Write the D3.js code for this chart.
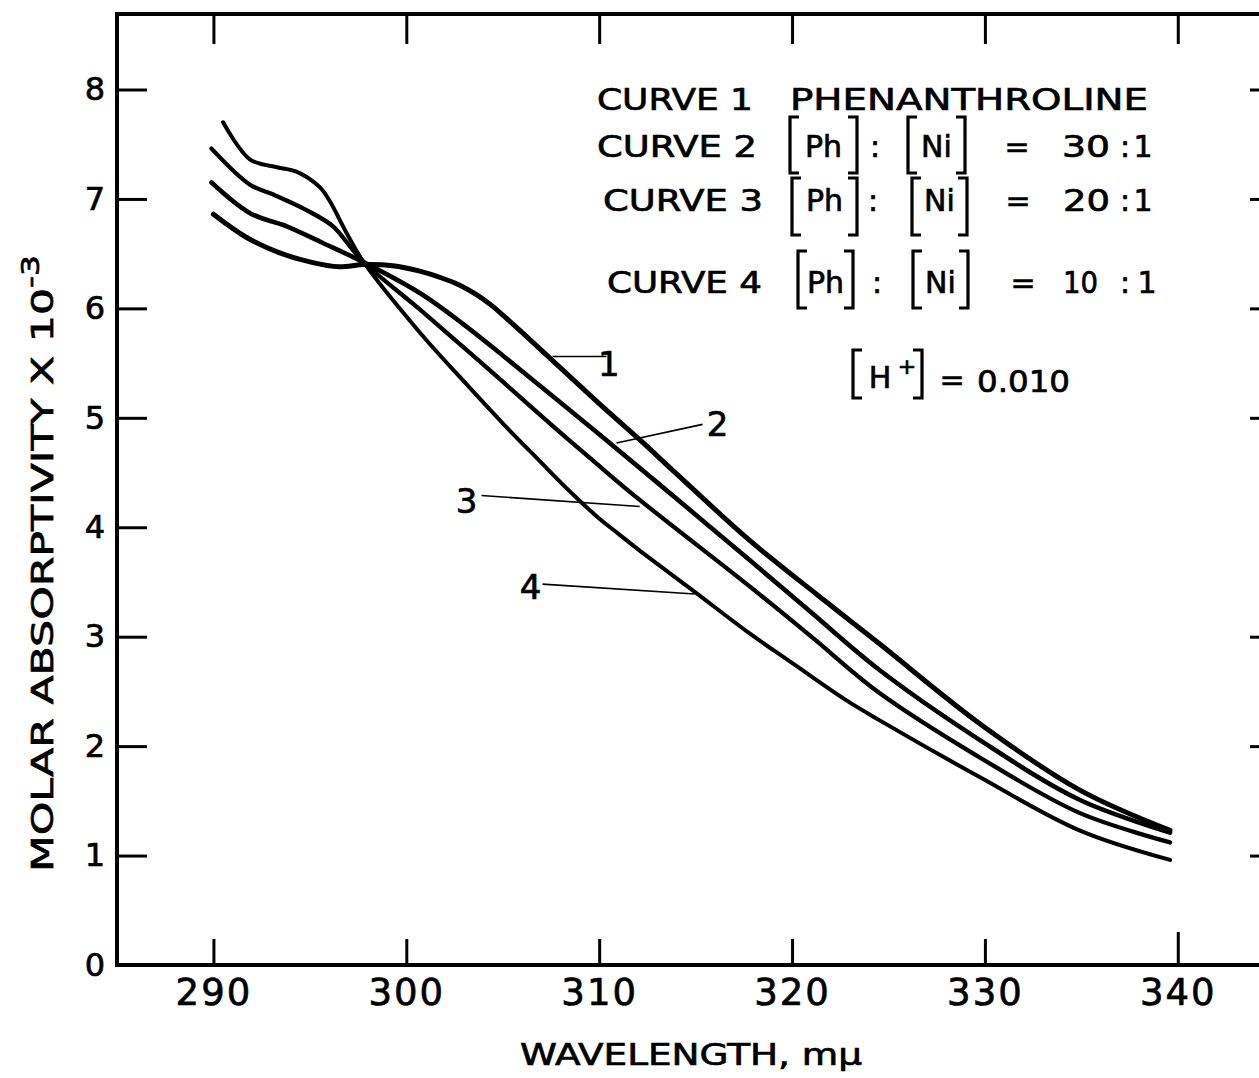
<!DOCTYPE html>
<html>
<head>
<meta charset="utf-8">
<script src="https://d3js.org/d3.v7.min.js"></script>
<style>
  html, body { margin: 0; padding: 0; background: #fff; }
  svg { display: block; }
  text { font-family: 'DejaVu Sans', sans-serif; fill: #000; stroke: #000; stroke-width: 0.7px; }
</style>
</head>
<body>
<svg id="chart" width="1259" height="1078"></svg>
<script>
'use strict';

// values (wavelength in m-mu, molar absorptivity x 10^-3)
var curve1Wavelength = [290.0, 291.7, 293.4, 295.1, 296.5, 297.8, 299.3, 300.7, 301.8, 302.8, 303.6, 304.4, 305.5, 307.6, 310.0, 312.1, 314.0, 317.8, 321.4, 324.5, 329.7, 334.9, 339.6];
var curve1Absorptivity = [6.86, 6.65, 6.51, 6.42, 6.38, 6.40, 6.39, 6.34, 6.28, 6.21, 6.13, 6.03, 5.86, 5.52, 5.13, 4.80, 4.49, 3.88, 3.37, 2.94, 2.21, 1.60, 1.23];

var curve2Wavelength = [289.9, 291.9, 293.8, 295.65, 297.8, 300.7, 303.0, 305.0, 307.5, 310.0, 313.0, 317.8, 321.0, 324.5, 329.7, 334.9, 339.6];
var curve2Absorptivity = [7.15, 6.87, 6.75, 6.60, 6.42, 6.14, 5.85, 5.57, 5.21, 4.85, 4.41, 3.70, 3.22, 2.70, 2.06, 1.51, 1.21];

var curve3Wavelength = [289.9, 291.9, 293.1, 294.8, 296.2, 297.2, 297.8, 300.7, 303.0, 305.0, 307.5, 310.0, 312.1, 317.8, 321.0, 324.5, 329.7, 334.9, 339.6];
var curve3Absorptivity = [7.46, 7.13, 7.04, 6.90, 6.75, 6.54, 6.42, 5.99, 5.64, 5.33, 4.94, 4.56, 4.25, 3.46, 3.00, 2.49, 1.90, 1.39, 1.12];

var curve4Wavelength = [290.5, 291.9, 293.3, 294.3, 295.5, 296.0, 296.9, 297.8, 300.7, 303.0, 305.0, 307.0, 308.0, 309.0, 310.0, 311.0, 312.0, 314.8, 317.8, 320.0, 322.8, 324.5, 329.7, 334.9, 339.6];
var curve4Absorptivity = [7.70, 7.36, 7.29, 7.25, 7.11, 6.99, 6.69, 6.42, 5.78, 5.33, 4.95, 4.59, 4.41, 4.24, 4.08, 3.94, 3.80, 3.43, 3.03, 2.76, 2.42, 2.24, 1.72, 1.23, 0.96];

var xTicks = [290, 300, 310, 320, 330, 340];
var yTicks = [0, 1, 2, 3, 4, 5, 6, 7, 8];
var curveNames = ['1', '2', '3', '4'];
var legendRatios = ['30 : 1', '20 : 1', '10 : 1'];

var svg = d3.select('#chart');

var x = d3.scaleLinear().domain([285, 345.3]).range([117, 1280]);
var y = d3.scaleLinear().domain([0, 8.69]).range([965, 14]);

function styleAxis(g, size) {
    g.select('.domain').remove();
    g.selectAll('.tick line').attr('stroke', '#000').attr('stroke-width', 3);
    g.selectAll('.tick text')
        .attr('fill', '#000')
        .style('font-family', "'DejaVu Sans', sans-serif")
        .style('font-size', size + 'px');
}

// ticks (all drawn inward)
svg.append('g')
    .attr('transform', 'translate(' + x(285) + ',0)')
    .call(d3.axisLeft(y).tickValues(yTicks).tickSize(-30).tickPadding(12).tickFormat(d3.format('d')))
    .call(styleAxis, 32);

var bottomAxis = svg.append('g')
    .attr('transform', 'translate(0,' + y(0) + ')')
    .call(d3.axisBottom(x).tickValues(xTicks).tickSize(-26).tickPadding(14).tickFormat(d3.format('d')))
    .call(styleAxis, 37);
bottomAxis.selectAll('.tick text').attr('letter-spacing', 2);
bottomAxis.selectAll('.tick line').filter(function(d) { return d === 340; }).attr('y2', -33);

svg.append('g')
    .attr('transform', 'translate(0,' + y(8.69) + ')')
    .call(d3.axisTop(x).tickValues(xTicks).tickSize(-30).tickFormat(''))
    .call(styleAxis, 10);

svg.append('g')
    .attr('transform', 'translate(' + x(345.3) + ',0)')
    .call(d3.axisRight(y).tickValues([1, 2, 3, 5, 6, 7, 8]).tickSize(-30).tickFormat(''))
    .call(styleAxis, 10);

// frame
svg.append('path')
    .attr('d', 'M' + x(285) + ',' + y(8.69) + 'H' + x(345.3) + 'V' + y(0) + 'H' + x(285) + 'Z')
    .attr('fill', 'none')
    .attr('stroke', '#000')
    .attr('stroke-width', 4);

// curves
var line = d3.line()
    .x(function(d) { return x(d[0]); })
    .y(function(d) { return y(d[1]); })
    .curve(d3.curveCatmullRom.alpha(0.5));

var curves = [
    { wl: curve1Wavelength, abs: curve1Absorptivity, width: 5 },
    { wl: curve2Wavelength, abs: curve2Absorptivity, width: 4.6 },
    { wl: curve3Wavelength, abs: curve3Absorptivity, width: 4.3 },
    { wl: curve4Wavelength, abs: curve4Absorptivity, width: 4 },
];

curves.forEach(function(c) {
    svg.append('path')
        .datum(d3.zip(c.wl, c.abs))
        .attr('d', line)
        .attr('fill', 'none')
        .attr('stroke', '#000')
        .attr('stroke-width', c.width)
        .attr('stroke-linecap', 'round')
        .attr('stroke-linejoin', 'round');
});

// curve labels with leader lines (data units)
var curveLabels = [
    { name: curveNames[0], from: [307.58, 5.56], to: [310.38, 5.56], at: [310.5, 5.38] },
    { name: curveNames[1], from: [310.9, 4.77], to: [315.36, 4.94], at: [316.14, 4.83] },
    { name: curveNames[2], from: [312.1, 4.19], to: [303.9, 4.29], at: [303.12, 4.13] },
    { name: curveNames[3], from: [314.95, 3.39], to: [307.06, 3.48], at: [306.44, 3.34] },
];

curveLabels.forEach(function(l) {
    svg.append('line')
        .attr('x1', x(l.from[0])).attr('y1', y(l.from[1]))
        .attr('x2', x(l.to[0])).attr('y2', y(l.to[1]))
        .attr('stroke', '#000')
        .attr('stroke-width', 1.6);
    svg.append('text')
        .attr('x', x(l.at[0])).attr('y', y(l.at[1]))
        .attr('text-anchor', 'middle')
        .style('font-size', '34px')
        .text(l.name);
});

// legend
function txt(t, x0, x1, base, size) {
    var el = svg.append('text')
        .attr('x', x0).attr('y', base)
        .style('font-size', (size || 30) + 'px')
        .text(t);
    if (x1 !== null) {
        el.attr('textLength', x1 - x0).attr('lengthAdjust', 'spacingAndGlyphs');
    } else {
        el.attr('text-anchor', 'middle');
    }
    return el;
}

function bracket(x0, x1, y0, y1) {
    var arm = 9;
    svg.append('path')
        .attr('d', 'M' + (x0 + arm) + ',' + y0 + 'H' + x0 + 'V' + y1 + 'H' + (x0 + arm) +
            'M' + (x1 - arm) + ',' + y0 + 'H' + x1 + 'V' + y1 + 'H' + (x1 - arm))
        .attr('fill', 'none')
        .attr('stroke', '#000')
        .attr('stroke-width', 3.2);
}

txt('CURVE 1', 597, 753, 110);
txt('PHENANTHROLINE', 790, 1148, 110);

var rows = [
    { curve: 'CURVE 2', c: [597, 757], base: 157, ph: [790, 857], ni: [908, 965], by: [117, 173], colon: 875, eq: 1017, num: [1062, 1110], c2: 1125, one: 1143 },
    { curve: 'CURVE 3', c: [603, 763], base: 211, ph: [792, 857], ni: [912, 967], by: [178, 235], colon: 873, eq: 1018, num: [1063, 1110], c2: 1125, one: 1143 },
    { curve: 'CURVE 4', c: [607, 762], base: 293, ph: [798, 853], ni: [913, 968], by: [251, 308], colon: 877, eq: 1023, num: [1063, 1098], c2: 1125, one: 1147 },
];

rows.forEach(function(r, i) {
    var parts = legendRatios[i].split(' : ');
    txt(r.curve, r.c[0], r.c[1], r.base);
    bracket(r.ph[0], r.ph[1], r.by[0], r.by[1]);
    txt('Ph', (r.ph[0] + r.ph[1]) / 2, null, r.base);
    txt(':', r.colon, null, r.base);
    bracket(r.ni[0], r.ni[1], r.by[0], r.by[1]);
    txt('Ni', (r.ni[0] + r.ni[1]) / 2, null, r.base);
    txt('=', r.eq, null, r.base);
    txt(parts[0], r.num[0], r.num[1], r.base);
    txt(':', r.c2, null, r.base);
    txt(parts[1], r.one, null, r.base);
});

bracket(853, 922, 350, 398);
txt('H', 880, null, 388);
txt('+', 907, null, 374, 22);
txt('=', 952, null, 390);
txt('0.010', 977, 1070, 392);

// axis titles
txt('WAVELENGTH, m\u03bc', 520, 862, 1065, 30);

var yTitle = svg.append('text')
    .attr('transform', 'translate(53,872) rotate(-90)')
    .attr('textLength', 617)
    .attr('lengthAdjust', 'spacingAndGlyphs')
    .style('font-size', '31px');
yTitle.append('tspan').text('MOLAR ABSORPTIVITY X 10');
yTitle.append('tspan').attr('dy', -14).style('font-size', '24px').text('-3');
</script>
</body>
</html>
